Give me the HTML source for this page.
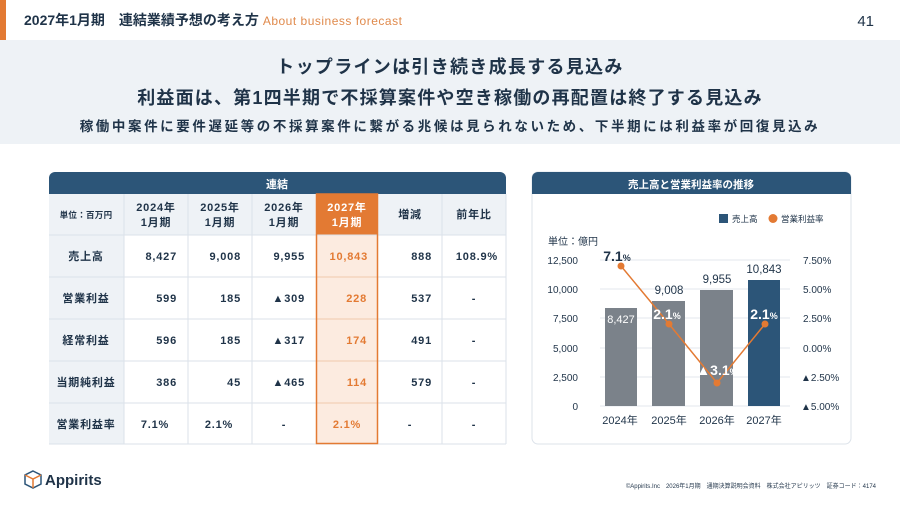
<!DOCTYPE html>
<html><head><meta charset="utf-8"><style>
body{margin:0;width:900px;height:506px;overflow:hidden;background:#fff;font-family:"Liberation Sans","Noto Sans CJK JP",sans-serif;}
svg text{font-family:"Liberation Sans","Noto Sans CJK JP",sans-serif;}
</style></head><body>
<svg width="900" height="506" viewBox="0 0 900 506" xmlns="http://www.w3.org/2000/svg">
<rect x="0" y="0" width="900" height="506" fill="#fff"/>
<rect x="0" y="40" width="900" height="104" fill="#eef2f6"/>
<rect x="0" y="0" width="6" height="40" fill="#e37a33"/>
<text x="24" y="25" font-size="14" fill="#1f3348" font-weight="bold">2027年1月期　連結業績予想の考え方 <tspan fill="#e08a4c" font-size="12" font-weight="normal" letter-spacing="0.5">About business forecast</tspan></text>
<text x="874" y="26" font-size="15" fill="#1f3348" text-anchor="end">41</text>
<text x="450" y="73" font-size="18" font-weight="bold" fill="#1f3348" text-anchor="middle" letter-spacing="1.3">トップラインは引き続き成長する見込み</text>
<text x="450" y="104" font-size="18" font-weight="bold" fill="#1f3348" text-anchor="middle" letter-spacing="1.2">利益面は、第1四半期で不採算案件や空き稼働の再配置は終了する見込み</text>
<text x="450" y="131" font-size="13.5" font-weight="bold" fill="#1f3348" text-anchor="middle" letter-spacing="2.6">稼働中案件に要件遅延等の不採算案件に繋がる兆候は見られないため、下半期には利益率が回復見込み</text>

<!-- table -->
<path d="M49 194 V178 a6 6 0 0 1 6 -6 H500 a6 6 0 0 1 6 6 V194 Z" fill="#2c5578"/>
<text x="277" y="188" font-size="11" font-weight="bold" fill="#fff" text-anchor="middle">連結</text>
<rect x="49" y="194" width="457" height="250" fill="#fff"/>
<rect x="49" y="194" width="75" height="250" fill="#eef2f6"/>
<rect x="124" y="194" width="382" height="41" fill="#eef2f6"/>
<rect x="316" y="194" width="62" height="41" fill="#e37a33"/>
<rect x="316" y="235" width="62" height="209" fill="#fcebe0"/>
<g stroke="#dbe2ea" stroke-width="1">
<line x1="49" y1="235" x2="506" y2="235"/><line x1="49" y1="277" x2="506" y2="277"/><line x1="49" y1="319" x2="506" y2="319"/><line x1="49" y1="361" x2="506" y2="361"/><line x1="49" y1="403" x2="506" y2="403"/><line x1="49" y1="444" x2="506" y2="444"/>
<line x1="124" y1="194" x2="124" y2="444"/><line x1="188" y1="194" x2="188" y2="444"/><line x1="252" y1="194" x2="252" y2="444"/><line x1="442" y1="194" x2="442" y2="444"/><line x1="506" y1="194" x2="506" y2="444"/>
</g>
<g stroke="#f0c9ad"><line x1="316" y1="277" x2="378" y2="277"/><line x1="316" y1="319" x2="378" y2="319"/><line x1="316" y1="361" x2="378" y2="361"/><line x1="316" y1="403" x2="378" y2="403"/></g>
<rect x="316.5" y="194" width="61" height="249.5" fill="none" stroke="#e37a33" stroke-width="1.5"/>
<g font-size="11" font-weight="bold" fill="#1f3348" text-anchor="middle" letter-spacing="0.8">
<text x="86" y="218" font-size="8.5" letter-spacing="0.3">単位：百万円</text>
<text x="156" y="211">2024年</text><text x="156" y="226">1月期</text>
<text x="220" y="211">2025年</text><text x="220" y="226">1月期</text>
<text x="284" y="211">2026年</text><text x="284" y="226">1月期</text>
<text x="347" y="211" fill="#fff">2027年</text><text x="347" y="226" fill="#fff">1月期</text>
<text x="410" y="218">増減</text><text x="474" y="218">前年比</text>
<text x="86" y="260">売上高</text><text x="86" y="302">営業利益</text><text x="86" y="344">経常利益</text><text x="86" y="386">当期純利益</text><text x="86" y="428">営業利益率</text>
</g>
<g font-size="11" font-weight="bold" fill="#1f3348" text-anchor="end" letter-spacing="0.8">
<text x="177" y="260">8,427</text><text x="241" y="260">9,008</text><text x="305" y="260">9,955</text><text x="368" y="260" fill="#e37a33">10,843</text><text x="432" y="260">888</text><text x="498" y="260">108.9%</text>
<text x="177" y="302">599</text><text x="241" y="302">185</text><text x="305" y="302">▲309</text><text x="367" y="302" fill="#e37a33">228</text><text x="432" y="302">537</text>
<text x="177" y="344">596</text><text x="241" y="344">185</text><text x="305" y="344">▲317</text><text x="367" y="344" fill="#e37a33">174</text><text x="432" y="344">491</text>
<text x="177" y="386">386</text><text x="241" y="386">45</text><text x="305" y="386">▲465</text><text x="367" y="386" fill="#e37a33">114</text><text x="432" y="386">579</text>
</g>
<g font-size="11" font-weight="bold" fill="#1f3348" text-anchor="middle" letter-spacing="0.8">
<text x="474" y="302">-</text><text x="474" y="344">-</text><text x="474" y="386">-</text>
<text x="155" y="428">7.1%</text><text x="219" y="428">2.1%</text><text x="284" y="428">-</text><text x="347" y="428" fill="#e37a33">2.1%</text><text x="410" y="428">-</text><text x="474" y="428">-</text>
</g>

<!-- chart panel -->
<rect x="532" y="172" width="319" height="272" rx="6" fill="#fff" stroke="#dde3ea"/>
<path d="M532 194 V178 a6 6 0 0 1 6 -6 H845 a6 6 0 0 1 6 6 V194 Z" fill="#2c5578"/>
<text x="691" y="188" font-size="10.5" font-weight="bold" fill="#fff" text-anchor="middle">売上高と営業利益率の推移</text>
<rect x="719" y="214" width="9" height="9" fill="#2c5578"/>
<text x="732" y="222" font-size="8.5" fill="#1f3348">売上高</text>
<circle cx="773" cy="218.5" r="4.5" fill="#e37a33"/>
<text x="781" y="222" font-size="8.5" fill="#1f3348">営業利益率</text>
<text x="548" y="245" font-size="10" fill="#1f3348">単位：億円</text>
<g stroke="#e3e7ec"><line x1="600" y1="260" x2="790" y2="260"/><line x1="600" y1="289" x2="790" y2="289"/><line x1="600" y1="318" x2="790" y2="318"/><line x1="600" y1="348" x2="790" y2="348"/><line x1="600" y1="377" x2="790" y2="377"/><line x1="600" y1="406" x2="790" y2="406"/></g>
<g font-size="10" fill="#1f3348" text-anchor="end">
<text x="578" y="264">12,500</text><text x="578" y="293">10,000</text><text x="578" y="322">7,500</text><text x="578" y="352">5,000</text><text x="578" y="381">2,500</text><text x="578" y="410">0</text>
</g>
<g font-size="10" fill="#1f3348">
<text x="803" y="264">7.50%</text><text x="803" y="293">5.00%</text><text x="803" y="322">2.50%</text><text x="803" y="352">0.00%</text><text x="801" y="381">▲2.50%</text><text x="801" y="410">▲5.00%</text>
</g>
<rect x="605" y="308" width="32" height="98" fill="#7b828a"/>
<rect x="652" y="301" width="33" height="105" fill="#7b828a"/>
<rect x="700" y="290" width="33" height="116" fill="#7b828a"/>
<rect x="748" y="280" width="32" height="126" fill="#2c5578"/>
<g font-size="11.5" fill="#1f3348" text-anchor="middle">
<text x="669" y="294">9,008</text><text x="717" y="283">9,955</text><text x="764" y="273">10,843</text>
<text x="621" y="323" fill="#fff" font-size="11">8,427</text>
<text x="717" y="424" font-size="11">2026年</text><text x="620" y="424" font-size="11">2024年</text><text x="669" y="424" font-size="11">2025年</text><text x="764" y="424" font-size="11">2027年</text>
</g>
<polyline points="621,266 669,324 717,383 765,324" fill="none" stroke="#e37a33" stroke-width="1.5"/>
<circle cx="621" cy="266" r="3.5" fill="#e37a33"/><circle cx="669" cy="324" r="3.5" fill="#e37a33"/><circle cx="717" cy="383" r="3.5" fill="#e37a33"/><circle cx="765" cy="324" r="3.5" fill="#e37a33"/>
<g font-size="14" font-weight="bold" text-anchor="middle">
<text x="617" y="261" fill="#1f3348">7.1<tspan font-size="9">%</tspan></text>
<text x="667" y="319" fill="#fff">2.1<tspan font-size="9">%</tspan></text>
<text x="764" y="319" fill="#fff">2.1<tspan font-size="9">%</tspan></text>
<text x="717" y="375" fill="#fff">▲3.1<tspan font-size="9">%</tspan></text>
</g>

<!-- footer -->
<g transform="translate(24,470)" fill="none" stroke-width="1.5">
<path d="M9 1 L17 5 L17 14 L9 18 L1 14 L1 5 Z" stroke="#2c5578"/>
<path d="M1 5 L9 9 L17 5 M9 9 V18" stroke="#e37a33"/>
</g>
<text x="45" y="485" font-size="15" font-weight="bold" fill="#1f3348">Appirits</text>
<text x="876" y="488" font-size="6" fill="#1f3348" text-anchor="end">©Appirits.Inc　2026年1月期　通期決算説明会資料　株式会社アピリッツ　証券コード：4174</text>
</svg>
</body></html>
